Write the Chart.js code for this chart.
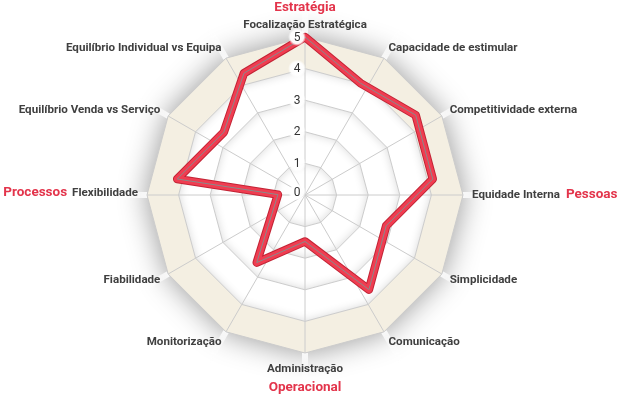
<!DOCTYPE html>
<html><head><meta charset="utf-8">
<script src="https://cdn.jsdelivr.net/npm/chart.js@4.4.1/dist/chart.umd.min.js"></script>
<style>html,body{margin:0;padding:0;background:#fff}#wrap{width:621px;height:398px;position:relative}</style>
</head><body><div id="wrap"><canvas id="c"></canvas></div>
<script>
const categories = ['Focalização Estratégica','Capacidade de estimular','Competitividade externa','Equidade Interna','Simplicidade','Comunicação','Administração','Monitorização','Fiabilidade','Flexibilidade','Equilíbrio Venda vs Serviço','Equilíbrio Individual vs Equipa'];
const scores = [5, 3.9, 4.5, 4.5, 3.3, 4.5, 2.2, 3.4, 1.1, 4.5, 3.3, 4.3];
const tickValues = [0, 1, 2, 3, 4, 5];
const groupNames = ['Estratégia', 'Pessoas', 'Operacional', 'Processos'];
const groupAnchors = [0, 3, 6, 9];

const LABEL_FONT = 'bold 11.6px Roboto';
const GROUP_FONT = 'bold 13.5px Roboto';

function polyPath(ctx, s, v) {
  ctx.beginPath();
  for (let i = 0; i < categories.length; i++) {
    const p = s.getPointPositionForValue(i, v);
    if (i) ctx.lineTo(p.x, p.y); else ctx.moveTo(p.x, p.y);
  }
  ctx.closePath();
}

const bgPlugin = {
  id: 'bg',
  beforeDraw(chart) {
    const s = chart.scales.r, ctx = chart.ctx, n = categories.length;
    const max = tickValues[tickValues.length - 1];
    ctx.save();
    ctx.shadowColor = 'rgba(0,0,0,0.42)';
    ctx.shadowBlur = 30;
    polyPath(ctx, s, max);
    ctx.fillStyle = '#f4efe2';
    ctx.fill();
    ctx.restore();
    ctx.save();
    for (let i = 0; i < n; i++) {
      const a = s.getPointPositionForValue(i, max);
      const b = s.getPointPositionForValue(i, max * 1.22);
      const g = ctx.createLinearGradient(a.x, a.y, b.x, b.y);
      g.addColorStop(0, 'rgba(255,255,255,0.85)');
      g.addColorStop(1, 'rgba(255,255,255,0)');
      ctx.strokeStyle = g; ctx.lineWidth = 6;
      ctx.beginPath(); ctx.moveTo(a.x, a.y); ctx.lineTo(b.x, b.y); ctx.stroke();
    }
    ctx.restore();
    polyPath(ctx, s, max - 1);
    ctx.fillStyle = '#ffffff';
    ctx.fill();
    for (let v = max - 1; v >= 1; v--) {
      ctx.save();
      polyPath(ctx, s, v);
      ctx.clip();
      ctx.beginPath();
      ctx.rect(-50, -50, chart.width + 100, chart.height + 100);
      for (let i = 0; i < n; i++) {
        const p = s.getPointPositionForValue(i, v);
        if (i) ctx.lineTo(p.x, p.y); else ctx.moveTo(p.x, p.y);
      }
      ctx.closePath();
      ctx.shadowColor = 'rgba(0,0,0,0.16)';
      ctx.shadowBlur = 10;
      ctx.fillStyle = '#ffffff';
      ctx.fill('evenodd');
      ctx.restore();
    }
  }
};

const labelPlugin = {
  id: 'labels',
  afterDraw(chart) {
    const s = chart.scales.r, ctx = chart.ctx;
    const R = s.drawingArea;
    ctx.save();
    ctx.font = '12px Roboto';
    ctx.textAlign = 'center';
    ctx.textBaseline = 'middle';
    tickValues.forEach((v) => {
      const p = s.getPointPositionForValue(0, v);
      const x = p.x - 8, y = p.y + (v === 0 ? -3 : 0);
      const g = ctx.createRadialGradient(x, y, 3, x, y, 9);
      g.addColorStop(0, 'rgba(255,255,255,1)');
      g.addColorStop(0.6, 'rgba(255,255,255,0.95)');
      g.addColorStop(1, 'rgba(255,255,255,0)');
      ctx.fillStyle = g;
      ctx.beginPath(); ctx.arc(x, y, 9, 0, Math.PI * 2); ctx.fill();
      ctx.fillStyle = '#333333';
      ctx.fillText(String(v), x, y + 0.5);
    });
    ctx.font = LABEL_FONT;
    ctx.fillStyle = '#404040';
    const boxes = [];
    categories.forEach((label, i) => {
      const p = s.getPointPosition(i, R + 9);
      const a = s.getIndexAngle(i);
      const deg = Math.round(a * 180 / Math.PI) % 360;
      let align = 'center';
      if (deg > 0 && deg < 180) align = 'left';
      else if (deg > 180) align = 'right';
      const y = p.y - Math.cos(a) * 3 + (deg === 180 ? 4 : 0) - (deg === 270 ? 2 : 0);
      ctx.textAlign = align;
      ctx.fillText(label, p.x, y);
      const w = ctx.measureText(label).width;
      const left = align === 'left' ? p.x : align === 'right' ? p.x - w : p.x - w / 2;
      boxes.push({left, right: left + w, x: p.x, y});
    });
    ctx.font = GROUP_FONT;
    ctx.fillStyle = '#e3344b';
    groupNames.forEach((name, k) => {
      const b = boxes[groupAnchors[k]];
      const a = s.getIndexAngle(groupAnchors[k]);
      const sx = Math.round(Math.sin(a)), cy = Math.round(Math.cos(a));
      if (sx > 0) { ctx.textAlign = 'left'; ctx.fillText(name, b.right + 6, b.y); }
      else if (sx < 0) { ctx.textAlign = 'right'; ctx.fillText(name, b.left - 5, b.y); }
      else if (cy > 0) { ctx.textAlign = 'center'; ctx.fillText(name, b.x, b.y - 17); }
      else { ctx.textAlign = 'center'; ctx.fillText(name, b.x, b.y + 19); }
    });
    ctx.restore();
  }
};

new Chart(document.getElementById('c'), {
  type: 'radar',
  data: {
    labels: categories,
    datasets: [
      { data: scores, rAxisID: 'r2', borderColor: '#8a8a8a', borderWidth: 1, fill: false, pointRadius: 0, borderJoinStyle: 'round' },
      { data: scores, rAxisID: 'r2', borderColor: '#f03d51', borderWidth: 6.5, fill: false, pointRadius: 0, borderJoinStyle: 'round' },
      { data: scores, rAxisID: 'r2', borderColor: '#c22435', borderWidth: 8.5, fill: false, pointRadius: 0, borderJoinStyle: 'round' }
    ]
  },
  options: {
    responsive: true,
    maintainAspectRatio: false,
    animation: false,
    layout: { padding: { left: 0, right: 11, top: 37, bottom: 45 } },
    plugins: { legend: { display: false }, tooltip: { enabled: false } },
    scales: {
      r: {
        min: tickValues[0], max: tickValues[tickValues.length - 1],
        ticks: { display: false, stepSize: 1 },
        grid: { color: '#cccccc', lineWidth: 1 },
        angleLines: { color: '#cccccc', lineWidth: 1 },
        pointLabels: { display: false }
      },
      r2: {
        type: 'radialLinear',
        display: false,
        min: tickValues[0], max: tickValues[tickValues.length - 1],
        afterFit(s) {
          s.yCenter -= Math.round(s.drawingArea * 0.104);
          s.drawingArea = Math.round(s.drawingArea * 0.9);
        }
      }
    }
  },
  plugins: [bgPlugin, labelPlugin]
});
</script>
</body></html>
